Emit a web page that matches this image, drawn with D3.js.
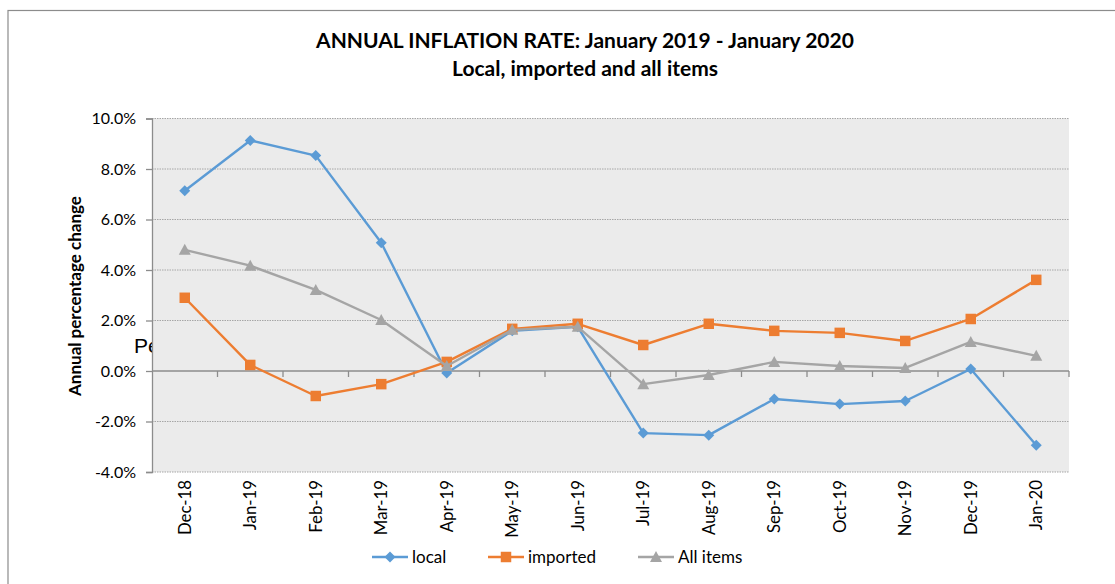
<!DOCTYPE html>
<html><head><meta charset="utf-8">
<script src="https://cdn.jsdelivr.net/npm/d3@7"></script>
<style>body{margin:0;background:#fff;}svg{display:block;font-family:Lato,"Open Sans",sans-serif;}</style>
</head><body><svg id="c" width="1115" height="584"></svg>
<script>
const categories = ["Dec-18","Jan-19","Feb-19","Mar-19","Apr-19","May-19","Jun-19","Jul-19","Aug-19","Sep-19","Oct-19","Nov-19","Dec-19","Jan-20"];
const local    = [7.14, 9.13, 8.53, 5.08, -0.08, 1.59, 1.75, -2.46, -2.54, -1.11, -1.31, -1.19, 0.08, -2.94];
const imported = [2.90, 0.24, -0.99, -0.52, 0.36, 1.67, 1.87, 1.03, 1.87, 1.59, 1.51, 1.19, 2.06, 3.61];
const allItems = [4.80, 4.17, 3.21, 2.02, 0.20, 1.63, 1.75, -0.52, -0.16, 0.36, 0.20, 0.12, 1.15, 0.60];
const yTicks = [-4, -2, 0, 2, 4, 6, 8, 10];
const seriesNames = ["local", "imported", "All items"];

const svg = d3.select("#c");
const L = 152, R = 1069, T = 118.5, B = 472;
const x = d3.scaleBand().domain(categories).range([L, R]);
const y = d3.scaleLinear().domain([-4, 10]).range([B, T]);
const FONT = "Lato, 'Open Sans', sans-serif";

// outer border
svg.append("rect").attr("x", 8).attr("y", 10.5).attr("width", 1120).attr("height", 600)
  .attr("fill", "#fff").attr("stroke", "#8c8c8c").attr("stroke-width", 1.2);

// partially hidden text behind plot area
svg.append("text").attr("x", 134).attr("y", 353).attr("font-size", 21).attr("fill", "#000")
  .attr("font-family", "Liberation Sans, sans-serif").text("Pe");

// plot background
svg.append("rect").attr("x", L).attr("y", T).attr("width", R - L).attr("height", B - T).attr("fill", "#ebebeb");

// gridlines
svg.append("g").selectAll("line").data(yTicks.filter(d => d !== 0)).join("line")
  .attr("x1", L).attr("x2", R).attr("y1", d => y(d)).attr("y2", d => y(d))
  .attr("stroke", "#a6a6a6").attr("stroke-width", 1).attr("stroke-dasharray", "1.5,1");

// y axis
const yAxis = d3.axisLeft(y).tickValues(yTicks).tickFormat(d => d.toFixed(1) + "%").tickSize(6).tickPadding(10);
const gy = svg.append("g").attr("transform", `translate(${L},0)`).call(yAxis);
gy.select(".domain").attr("stroke", "#8c8c8c").attr("stroke-width", 1.3);
gy.selectAll(".tick line").attr("stroke", "#8c8c8c").attr("stroke-width", 1.3);
gy.selectAll(".tick text").attr("font-size", 16).attr("fill", "#000").attr("font-family", FONT);

// zero axis line with category ticks
const zeroY = y(0);
svg.append("line").attr("x1", L).attr("x2", R).attr("y1", zeroY).attr("y2", zeroY)
  .attr("stroke", "#8c8c8c").attr("stroke-width", 1.3);
const bounds = categories.map(c => x(c)).concat([R]).slice(1);
svg.append("g").selectAll("line").data(bounds).join("line")
  .attr("x1", d => d).attr("x2", d => d).attr("y1", zeroY).attr("y2", zeroY + 6)
  .attr("stroke", "#8c8c8c").attr("stroke-width", 1.3);

// x labels (rotated)
svg.append("g").selectAll("text").data(categories).join("text")
  .attr("transform", d => `translate(${x(d) + x.bandwidth() / 2 + 6},${B + 8}) rotate(-90)`)
  .attr("text-anchor", "end").attr("font-size", 16.8).attr("fill", "#000").attr("font-family", FONT).text(d => d);

// series
const colors = ["#5b9bd5", "#ed7d31", "#a5a5a5"];
const data = [local, imported, allItems];
const cx = i => x(categories[i]) + x.bandwidth() / 2;
const line = d3.line().x((d, i) => cx(i)).y(d => y(d));
const marker = (k) => {
  if (k === 0) return "M0,-5.5L5.5,0L0,5.5L-5.5,0Z";
  if (k === 1) return d3.symbol().type(d3.symbolSquare).size(110)();
  return "M0,-6L6,5L-6,5Z";
};

[0, 1, 2].forEach(k => {
  const g = svg.append("g");
  g.append("path").datum(data[k]).attr("d", line).attr("fill", "none")
    .attr("stroke", colors[k]).attr("stroke-width", 2.4).attr("stroke-linejoin", "round");
  g.selectAll("path.m").data(data[k]).join("path").attr("class", "m")
    .attr("transform", (d, i) => `translate(${cx(i)},${y(d)})`)
    .attr("d", marker(k)).attr("fill", colors[k]);
});

// y axis title
svg.append("text").attr("transform", "translate(81,296) rotate(-90)").attr("text-anchor", "middle")
  .attr("font-size", 17).attr("font-weight", "bold").attr("fill", "#000").attr("font-family", FONT)
  .text("Annual percentage change");

// title
svg.append("text").attr("x", 585).attr("y", 48).attr("text-anchor", "middle")
  .attr("font-size", 21).attr("font-weight", "bold").attr("fill", "#000").attr("font-family", FONT)
  .text("ANNUAL INFLATION RATE: January 2019 - January 2020");
svg.append("text").attr("x", 585).attr("y", 76).attr("text-anchor", "middle")
  .attr("font-size", 21).attr("font-weight", "bold").attr("fill", "#000").attr("font-family", FONT)
  .text("Local, imported and all items");

// legend
const legX = [372, 488, 638];
const legY = 557;
seriesNames.forEach((n, k) => {
  const g = svg.append("g");
  g.append("line").attr("x1", legX[k]).attr("x2", legX[k] + 36).attr("y1", legY).attr("y2", legY)
    .attr("stroke", colors[k]).attr("stroke-width", 2.4);
  g.append("path").attr("transform", `translate(${legX[k] + 18},${legY})`).attr("d", marker(k)).attr("fill", colors[k]);
  g.append("text").attr("x", legX[k] + 40).attr("y", legY + 6).attr("font-size", 17).attr("fill", "#000")
    .attr("font-family", FONT).text(n);
});
</script></body></html>
